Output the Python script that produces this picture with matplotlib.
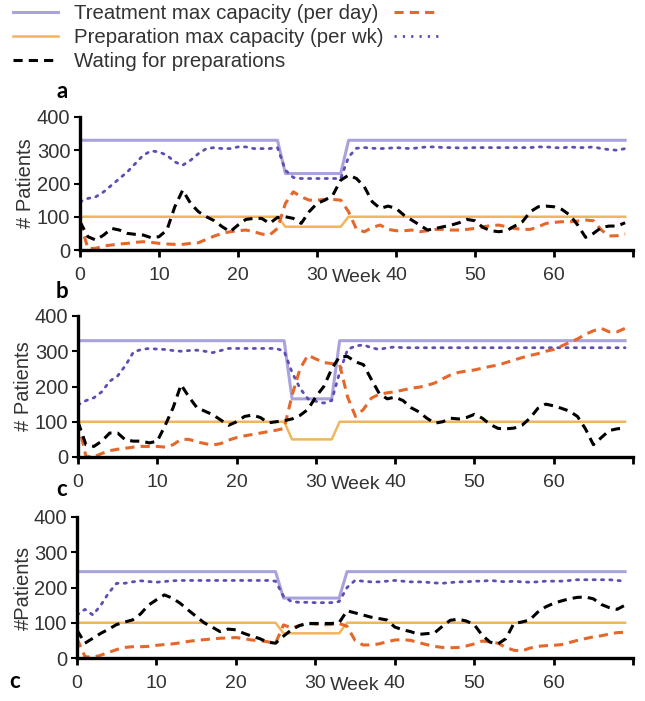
import numpy as np
import matplotlib
matplotlib.use("Agg")
import matplotlib.pyplot as plt
from matplotlib.lines import Line2D

plt.rcParams['font.family'] = ['Liberation Sans', 'DejaVu Sans']

weeks = list(range(70))

# ---- panel a ----
a_treat_cap = [330]*26 + [230]*8 + [330]*36
a_prep_cap = [100]*26 + [70]*8 + [100]*36
a_wait_prep = [85, 40, 30, 45, 65, 60, 50, 47, 45, 37, 40, 60, 130, 180, 140, 115, 100, 88, 70, 55,
               75, 92, 95, 95, 80, 98, 100, 95, 80, 115, 140, 150, 165, 210, 225, 215, 190, 145, 125, 132,
               125, 105, 90, 75, 60, 65, 70, 75, 82, 92, 88, 68, 58, 55, 58, 72, 85, 115, 130, 132,
               130, 122, 105, 75, 38, 50, 68, 72, 72, 82]
a_wait_treat = [85, 5, 5, 12, 15, 18, 20, 23, 25, 23, 20, 18, 17, 17, 20, 22, 32, 42, 50, 55,
                58, 60, 55, 48, 45, 65, 140, 175, 160, 150, 150, 152, 152, 150, 115, 62, 55, 68, 75, 62,
                58, 58, 60, 55, 58, 62, 62, 60, 60, 62, 65, 70, 73, 75, 70, 65, 62, 62, 70, 80,
                83, 85, 85, 87, 90, 88, 60, 42, 43, 48]
a_prep_used = [145, 155, 160, 175, 195, 215, 235, 260, 285, 298, 295, 285, 265, 255, 270, 290, 305, 308, 305, 305,
               310, 310, 305, 305, 305, 308, 240, 218, 215, 215, 215, 215, 215, 215, 280, 306, 308, 306, 305, 306,
               308, 306, 305, 308, 310, 310, 308, 308, 307, 307, 308, 308, 308, 308, 308, 308, 308, 308, 310, 310,
               308, 307, 310, 308, 308, 310, 305, 302, 300, 305]

# ---- panel b ----
b_treat_cap = [330]*27 + [165]*6 + [330]*37
b_prep_cap = [100]*27 + [50]*6 + [100]*37
b_wait_prep = [100, 35, 30, 45, 68, 68, 48, 45, 45, 40, 45, 90, 140, 205, 170, 140, 130, 120, 105, 90,
               100, 115, 119, 112, 97, 100, 103, 108, 118, 135, 171, 200, 250, 285, 285, 270, 262, 220, 180, 165,
               170, 160, 140, 128, 110, 96, 100, 110, 108, 112, 121, 110, 92, 81, 80, 82, 90, 110, 138, 150,
               145, 138, 130, 115, 80, 35, 55, 75, 80, 82]
b_wait_treat = [100, 2, 0, 10, 18, 22, 25, 28, 30, 30, 30, 28, 35, 50, 50, 43, 38, 34, 38, 48,
                55, 60, 64, 68, 72, 76, 81, 175, 250, 289, 278, 268, 265, 262, 170, 115, 135, 167, 178, 182,
                185, 190, 195, 198, 203, 210, 222, 233, 240, 244, 247, 252, 257, 261, 268, 275, 282, 288, 293, 300,
                305, 315, 325, 335, 348, 358, 365, 355, 355, 365]
b_prep_used = [148, 160, 168, 185, 215, 230, 260, 298, 305, 308, 306, 305, 302, 300, 302, 303, 300, 296, 302, 308,
               308, 308, 308, 308, 308, 308, 300, 240, 195, 165, 158, 153, 160, 240, 305, 315, 318, 310, 305, 310,
               312, 310, 310, 310, 310, 310, 310, 310, 310, 310, 310, 310, 310, 310, 310, 310, 310, 310, 310, 310,
               310, 310, 310, 310, 310, 310, 310, 310, 310, 310]

# ---- panel c ----
c_treat_cap = [245]*26 + [170]*8 + [245]*36
c_prep_cap = [100]*26 + [70]*8 + [100]*36
c_wait_prep = [79, 42, 56, 70, 82, 95, 102, 108, 125, 150, 165, 179, 170, 155, 136, 118, 100, 88, 75, 82,
               80, 70, 62, 55, 45, 42, 62, 80, 92, 98, 98, 98, 98, 100, 134, 128, 122, 116, 112, 108,
               88, 80, 75, 67, 69, 71, 90, 107, 110, 105, 95, 65, 45, 40, 55, 98, 102, 108, 130, 145,
               155, 162, 168, 172, 173, 168, 152, 143, 138, 150]
c_wait_treat = [55, 4, 2, 8, 16, 24, 30, 32, 32, 33, 36, 38, 40, 43, 47, 50, 52, 54, 56, 57,
                58, 55, 51, 49, 46, 42, 94, 85, 92, 98, 96, 94, 95, 98, 90, 50, 37, 37, 40, 46,
                51, 52, 50, 44, 38, 33, 30, 29, 30, 34, 40, 48, 46, 42, 30, 22, 20, 28, 33, 35,
                36, 38, 44, 50, 55, 60, 63, 68, 72, 73]
c_prep_used = [122, 138, 122, 150, 185, 212, 212, 216, 219, 217, 215, 217, 219, 220, 220, 220, 220, 220, 220, 220,
               220, 220, 220, 220, 220, 218, 175, 160, 158, 158, 157, 157, 157, 160, 200, 220, 218, 216, 216, 218,
               220, 218, 216, 216, 215, 213, 212, 214, 216, 216, 218, 218, 220, 218, 216, 218, 216, 215, 216, 218,
               218, 218, 220, 222, 222, 222, 222, 222, 220, 218]

panels = [
    ("# Patients", a_treat_cap, a_prep_cap, a_wait_prep, a_wait_treat, a_prep_used),
    ("# Patients", b_treat_cap, b_prep_cap, b_wait_prep, b_wait_treat, b_prep_used),
    ("#Patients", c_treat_cap, c_prep_cap, c_wait_prep, c_wait_treat, c_prep_used),
]

col_treat = '#A9A3DD'
col_prep = '#F2B55C'
col_wtreat = '#E5682A'
col_dot = '#5E4DB2'
txt = '#333333'

fig = plt.figure(figsize=(6.45, 7.01), dpi=100)

boxes = [
    [80/645, 1-250/701, 553/645, 133/701],
    [78/645, 1-457/701, 555/645, 141/701],
    [77/645, 1-658/701, 556/645, 141/701],
]

for box, (ylab, tcap, pcap, wprep, wtreat, pused) in zip(boxes, panels):
    ax = fig.add_axes(box)
    ax.plot(weeks, tcap, color=col_treat, lw=2.2)
    ax.plot(weeks, pcap, color=col_prep, lw=1.8)
    ax.plot(weeks, pused, color=col_dot, lw=2.0, linestyle=(0, (0.8, 2.2)), dash_capstyle='round')
    ax.plot(weeks, wtreat, color=col_wtreat, lw=2.2, linestyle=(0, (3, 2)))
    ax.plot(weeks, wprep, color='black', lw=2.2, linestyle=(0, (3, 2)))
    ax.set_xlim(0, 70)
    ax.set_ylim(0, 400)
    ax.set_yticks([0, 100, 200, 300, 400])
    ax.set_xticks(range(0, 71, 10))
    ax.set_xticklabels(['0', '10', '20', '30', '40', '50', '60', ''])
    for s in ['top', 'right']:
        ax.spines[s].set_visible(False)
    for s in ['left', 'bottom']:
        ax.spines[s].set_linewidth(2.4)
    ax.tick_params(axis='x', length=5, width=2, pad=7, labelsize=14, labelcolor=txt)
    ax.tick_params(axis='y', length=4, width=1.5, pad=3, labelsize=14.5, labelcolor=txt)
    ax.set_ylabel(ylab, fontsize=14.5, color=txt, labelpad=1)
    ax.annotate('Week', xy=(35, 0), xycoords=('data', 'axes fraction'),
                xytext=(0, -14), textcoords='offset points', ha='center', va='top',
                fontsize=14, color=txt)

fig.text(62/645, 1-92/701, 'a', fontsize=16, fontweight='bold', family='Lato', ha='center', va='center')
fig.text(62/645, 1-291/701, 'b', fontsize=16, fontweight='bold', family='Lato', ha='center', va='center')
fig.text(62/645, 1-490/701, 'c', fontsize=16, fontweight='bold', family='Lato', ha='center', va='center')
fig.text(15/645, 1-681/701, 'c', fontsize=16, fontweight='bold', family='Lato', ha='center', va='center')

handles = [
    Line2D([], [], color=col_treat, lw=2.2),
    Line2D([], [], color=col_prep, lw=1.8),
    Line2D([], [], color='black', lw=2.2, linestyle=(0, (3, 2))),
    Line2D([], [], color=col_wtreat, lw=2.2, linestyle=(0, (3, 2))),
    Line2D([], [], color=col_dot, lw=2.0, linestyle=(0, (0.8, 2.2))),
]
labels = ['Treatment max capacity (per day)', 'Preparation max capacity (per wk)',
          'Wating for preparations', '', '']
fig.legend(handles, labels, loc='upper left', bbox_to_anchor=(12/645, 1 - 3/701), ncol=2,
           frameon=False, fontsize=14.7, handlelength=2.2, handletextpad=0.8,
           labelspacing=0.25, columnspacing=0.5, borderpad=0, borderaxespad=0.05,
           labelcolor=txt)

fig.savefig('out.png', dpi=100)
